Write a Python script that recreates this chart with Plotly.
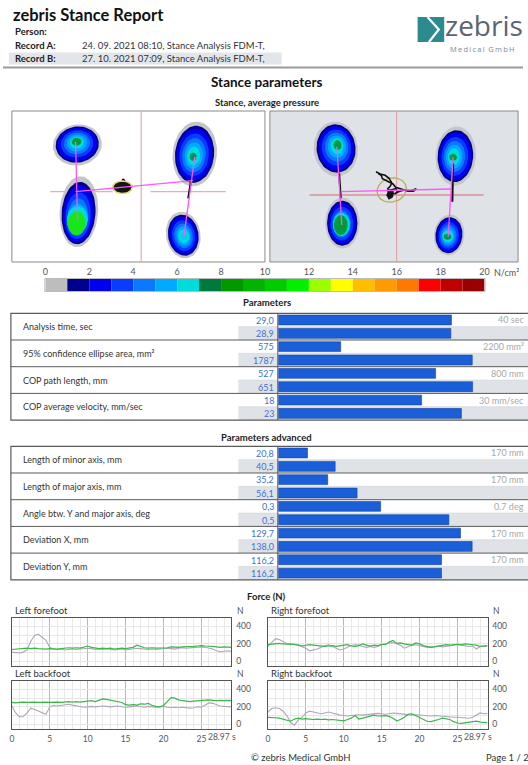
import numpy as np
import plotly.graph_objects as go

W, H = 528, 765
FONT = "Lato"

# ---------------- data ----------------
record_a = "24. 09. 2021 08:10, Stance Analysis FDM-T,"
record_b = "27. 10. 2021 07:09, Stance Analysis FDM-T,"

# pressure colour scale (N/cm²)
cbar_levels = [0, 1, 2, 3, 4, 5, 6, 7, 8, 9, 10, 11, 12, 13, 14, 15, 16, 17, 18, 19, 20]
cbar_colors = ["#bdbdbd", "#00008f", "#0000f0", "#0a3cff", "#0a78ff", "#00aaff", "#00dcdc",
               "#007a3c", "#009a00", "#00b400", "#00cc00", "#00f000", "#9cff00", "#ffff00",
               "#ffbe00", "#ff9a00", "#ff7800", "#ff0000", "#c00000", "#9a0000"]
cbar_ticks = [0, 2, 4, 6, 8, 10, 12, 14, 16, 18, 20]

# foot pressure blobs, panel-local coordinates (record A / record B)
A_cx = [66.5, 68.0, 185.7, 174.0]
A_cy = [34.0, 100.7, 43.0, 124.0]
A_rx = [25.0, 19.5, 22.5, 17.5]
A_ry = [20.5, 35.5, 32.5, 23.5]
A_rot = [-8, 4, 6, -10]
A_kx = [65.7, 65.7, 184.0, 174.7]
A_ky = [30.7, 112.3, 45.7, 125.7]
A_krx = [5.0, 9.0, 3.5, 4.0]
A_kry = [4.0, 12.0, 4.0, 3.0]
A_kcol = ["#009a3a", "#19e619", "#00914a", "#00d0e8"]

B_cx = [67.0, 73.7, 188.7, 182.0]
B_cy = [38.0, 112.0, 45.0, 124.0]
B_rx = [22.5, 17.5, 20.5, 15.5]
B_ry = [27.5, 25.5, 29.5, 20.5]
B_rot = [-6, 0, 4, 6]
B_kx = [68.7, 72.0, 186.0, 180.3]
B_ky = [34.0, 114.0, 46.3, 125.7]
B_krx = [4.0, 7.0, 4.0, 4.0]
B_kry = [5.0, 10.0, 3.5, 3.0]
B_kcol = ["#009a3a", "#009a3a", "#009a3a", "#009a3a"]

# cross-hairs / COP lines (panel-local)
A_vline_x = 131.3
A_hline_y = 80.7
A_hline_segs = [(39.0, 102.3), (140.7, 217.3)]
A_mag_x = [[64.7, 66.7], [185.7, 174.7], [64.7, 184.0]]
A_mag_y = [[30.7, 110.7], [45.7, 125.7], [80.7, 69.7]]
A_cop_x = [[65.7, 65.7], [182.3, 179.0], [110.0, 113.0, 115.0]]
A_cop_y = [[72.3, 82.3], [67.3, 87.3], [76.0, 68.0, 71.0]]
A_cop_cloud = (112.3, 76.3, 9.0, 5.5)

B_vline_x = 128.7
B_hline_y = 84.0
B_hline_segs = [(40.3, 217.0)]
B_mag_x = [[68.0, 73.0], [186.0, 181.0], [72.0, 183.7]]
B_mag_y = [[35.7, 114.0], [46.3, 125.7], [80.7, 78.0]]
B_cop_x = [[70.3, 72.0], [186.0, 185.3]]
B_cop_y = [[62.3, 87.3], [52.3, 90.7]]
B_path_x = [107.7, 112, 117, 121, 123.7, 122.3, 119.7, 121, 123.7, 121, 119, 123, 127.7, 129.7,
            126.3, 131.7, 137, 143, 148.7, 145.7, 140.3, 133.7, 127.7, 125, 119, 114.3, 113, 109.7]
B_path_y = [60.7, 63, 64.3, 67.3, 71.7, 75, 77.7, 81.7, 86.3, 87.7, 84, 79, 77.7, 81,
            83, 80.3, 79, 79.7, 77.7, 80.3, 80.3, 78.3, 76.3, 73, 70.3, 67.7, 64.3, 62.3]
B_ellipse = (123.7, 79.0, 15.0, 12.0)

# parameter tables
p1_labels = ["Analysis time, sec", "95% confidence ellipse area, mm²",
             "COP path length, mm", "COP average velocity, mm/sec"]
p1_a = [29.0, 575, 527, 18]
p1_b = [28.9, 1787, 651, 23]
p1_dec = [1, 0, 0, 0]
p1_max = [40, 2200, 800, 30]
p1_unit = ["sec", "mm²", "mm", "mm/sec"]

p2_labels = ["Length of minor axis, mm", "Length of major axis, mm",
             "Angle btw. Y and major axis, deg", "Deviation X, mm", "Deviation Y, mm"]
p2_a = [20.8, 35.2, 0.3, 129.7, 116.2]
p2_b = [40.5, 56.1, 0.5, 138.0, 116.2]
p2_dec = [1, 1, 1, 1, 1]
p2_max = [170, 170, 0.7, 170, 170]
p2_unit = ["mm", "mm", "deg", "mm", "mm"]

# force curves (N) sampled every 0.5 s
t = [0, 0.5, 1, 1.5, 2, 2.5, 3, 3.5, 4, 4.5, 5, 5.5, 6, 6.5, 7, 7.5, 8, 8.5, 9, 9.5,
     10, 10.5, 11, 11.5, 12, 12.5, 13, 13.5, 14, 14.5, 15, 15.5, 16, 16.5, 17, 17.5, 18, 18.5, 19, 19.5,
     20, 20.5, 21, 21.5, 22, 22.5, 23, 23.5, 24, 24.5, 25, 25.5, 26, 26.5, 27, 27.5, 28, 28.5, 28.97]

lf_a = [105, 100, 95, 105, 130, 230, 300, 310, 280, 240, 160, 140, 135, 140, 130, 135, 140, 135, 140, 150,
        150, 145, 135, 140, 135, 145, 140, 130, 135, 140, 130, 135, 140, 150, 145, 140, 135, 140, 135, 140,
        145, 150, 145, 140, 150, 155, 150, 155, 160, 165, 165, 160, 150, 140, 120, 110, 115, 120, 115]
lf_b = [135, 140, 145, 150, 150, 145, 150, 145, 140, 140, 145, 140, 140, 145, 150, 155, 150, 155, 150, 160,
        175, 160, 150, 145, 150, 145, 150, 140, 145, 150, 145, 150, 160, 185, 170, 155, 150, 155, 150, 150,
        150, 155, 165, 160, 160, 165, 165, 170, 170, 175, 180, 175, 175, 170, 165, 160, 165, 160, 160]
rf_a = [170, 220, 260, 250, 220, 200, 190, 195, 185, 170, 150, 120, 130, 140, 160, 175, 190, 170, 150, 130,
        140, 160, 180, 190, 185, 170, 160, 170, 160, 170, 190, 200, 210, 215, 200, 180, 150, 170, 185, 190,
        180, 170, 160, 165, 170, 175, 165, 170, 175, 180, 190, 185, 180, 170, 175, 140, 170, 175, 170]
rf_b = [190, 195, 200, 205, 200, 195, 200, 195, 185, 175, 180, 190, 185, 180, 175, 170, 175, 180, 170, 175,
        180, 190, 175, 170, 180, 200, 185, 175, 185, 180, 195, 190, 220, 240, 205, 210, 200, 190, 185, 210,
        200, 180, 170, 160, 165, 175, 185, 190, 185, 190, 195, 190, 200, 195, 190, 185, 170, 175, 180]
lb_a = [210, 130, 85, 90, 130, 185, 170, 150, 130, 115, 200, 215, 210, 215, 225, 230, 220, 210, 200, 195,
        200, 205, 200, 205, 210, 205, 200, 205, 210, 200, 195, 200, 205, 210, 200, 195, 205, 200, 195, 200,
        205, 195, 190, 195, 190, 195, 190, 185, 190, 200, 195, 220, 245, 240, 225, 210, 205, 200, 200]
lb_b = [250, 245, 250, 255, 250, 255, 255, 250, 255, 255, 250, 255, 255, 250, 255, 260, 255, 260, 255, 260,
        265, 270, 260, 275, 290, 285, 275, 270, 255, 250, 225, 220, 225, 220, 235, 230, 240, 215, 205, 200,
        215, 265, 305, 300, 280, 270, 265, 260, 265, 270, 275, 275, 280, 275, 270, 275, 270, 275, 270]
rb_a = [140, 180, 190, 180, 150, 100, 20, -10, 50, 80, 130, 150, 140, 130, 120, 130, 140, 130, 115, 105,
        100, 95, 100, 105, 110, 105, 110, 115, 120, 125, 120, 115, 120, 130, 125, 120, 115, 110, 105, 110,
        105, 100, 100, 95, 100, 95, 90, 85, 85, 80, 80, 75, 70, 70, 80, 110, 130, 120, 125]
rb_b = [80, 80, 75, 70, 60, 45, 35, 60, 70, 60, 65, 60, 55, 60, 55, 60, 50, 55, 50, 45,
        40, 55, 70, 100, 60, 70, 80, 95, 105, 95, 95, 100, 90, 70, 40, 55, 80, 115, 120, 100,
        80, 55, 35, 30, 40, 55, 70, 65, 55, 30, 15, 10, 15, 20, 30, 35, 25, 25, 20]

force_titles = ["Left forefoot", "Right forefoot", "Left backfoot", "Right backfoot"]
force_a = [lf_a, rf_a, lb_a, rb_a]
force_b = [lf_b, rf_b, lb_b, rb_b]
force_xticks = [0, 5, 10, 15, 20, 25]
force_yticks = [0, 200, 400]

# ---------------- helpers ----------------
def X(p):
    return p / W

def Y(p):
    return 1 - p / H

annotations = []
shapes = []
traces = []
layout_axes = {}

def text(x, y, s, size=10, color="#222", bold=False, xanchor="left", family=FONT):
    annotations.append(dict(x=X(x), y=Y(y), xref="paper", yref="paper",
                            text=("<b>%s</b>" % s) if bold else s, showarrow=False,
                            xanchor=xanchor, yanchor="middle",
                            font=dict(size=size, color=color, family=family)))

def rect(x0, y0, x1, y1, fill=None, line=None, lw=1, layer="below"):
    shapes.append(dict(type="rect", xref="paper", yref="paper", x0=X(x0), x1=X(x1),
                       y0=Y(y1), y1=Y(y0), fillcolor=fill or "rgba(0,0,0,0)",
                       line=dict(color=line or "rgba(0,0,0,0)", width=lw if line else 0),
                       layer=layer))

def hline(x0, x1, y, color="#555", lw=1, layer="above"):
    shapes.append(dict(type="line", xref="paper", yref="paper", x0=X(x0), x1=X(x1),
                       y0=Y(y), y1=Y(y), line=dict(color=color, width=lw), layer=layer))

def vline(x, y0, y1, color="#555", lw=1, layer="above"):
    shapes.append(dict(type="line", xref="paper", yref="paper", x0=X(x), x1=X(x),
                       y0=Y(y0), y1=Y(y1), line=dict(color=color, width=lw), layer=layer))

def hidden_axis(rng, dom):
    return dict(range=rng, domain=dom, showgrid=False, zeroline=False, showticklabels=False,
                showline=False, ticks="", fixedrange=True)

def ellipse(cx, cy, rx, ry, rot=0):
    th = np.linspace(0, 2 * np.pi, 64)
    c, s = np.cos(np.radians(rot)), np.sin(np.radians(rot))
    ex, ey = rx * np.cos(th), ry * np.sin(th)
    return cx + ex * c - ey * s, cy + ex * s + ey * c

blob_levels = [(1.0, "#c6c6c6"), (0.88, cbar_colors[1]), (0.80, cbar_colors[2]),
               (0.66, cbar_colors[3]), (0.53, cbar_colors[4]), (0.41, cbar_colors[5]),
               (0.29, cbar_colors[6])]

def draw_blobs(ax, cx, cy, rx, ry, rot, kx, ky, krx, kry, kcol):
    for i in range(len(cx)):
        for s, col in blob_levels:
            ccx = kx[i] + s * (cx[i] - kx[i])
            ccy = ky[i] + s * (cy[i] - ky[i])
            ex, ey = ellipse(ccx, ccy, max(rx[i] * s, krx[i] + 1.5), max(ry[i] * s, kry[i] + 1.5), rot[i])
            traces.append(go.Scatter(x=ex, y=ey, mode="lines", fill="toself", fillcolor=col,
                                     line=dict(width=0, color=col), hoverinfo="skip",
                                     showlegend=False, xaxis="x" + ax, yaxis="y" + ax))
        ex, ey = ellipse(kx[i], ky[i], krx[i], kry[i], rot[i])
        traces.append(go.Scatter(x=ex, y=ey, mode="lines", fill="toself", fillcolor=kcol[i],
                                 line=dict(width=0, color=kcol[i]), hoverinfo="skip",
                                 showlegend=False, xaxis="x" + ax, yaxis="y" + ax))

def line_tr(ax, xs, ys, color, width):
    traces.append(go.Scatter(x=xs, y=ys, mode="lines", line=dict(color=color, width=width),
                             hoverinfo="skip", showlegend=False, xaxis="x" + ax, yaxis="y" + ax))

# ---------------- header ----------------
text(8, 15, "zebris Stance Report", size=16.5, color="#111", bold=True)
text(10, 32, "Person:", size=9.5, color="#222", bold=True)
rect(6, 52.5, 283, 64.5, fill="#e2e6eb")
text(10, 45, "Record A:", size=9.5, color="#222", bold=True)
text(10, 58.5, "Record B:", size=9.5, color="#222", bold=True)
text(78, 45, record_a, size=9.5, color="#333")
text(78, 58.5, record_b, size=9.5, color="#333")
hline(0, 528, 67.5, color="#9a9a9a", lw=2)
text(268, 82, "Stance parameters", size=13.5, color="#111", bold=True, xanchor="center")
text(268, 103, "Stance, average pressure", size=9.5, color="#222", bold=True, xanchor="center")

# logo
rect(421, 17, 448, 42, fill="#2b8b8f", layer="above")
shapes.append(dict(type="path", xref="paper", yref="paper",
                   path="M %f %f L %f %f L %f %f" % (X(431), Y(17), X(442.5), Y(29.5), X(432.5), Y(42)),
                   line=dict(color="white", width=2.2), layer="above"))
text(447, 25.5, "zebris", size=28, color="#5a6571", family="Open Sans")
text(452, 49.5, "\u2009".join("Medical") + "\u2002" + "\u2009".join("GmbH"), size=7.5, color="#7d8791", family="Open Sans")

# ---------------- pressure panels ----------------
pA = (9, 266, 111, 262)
pB = (271, 523, 111, 262)
rect(pA[0], pA[2], pA[1], pA[3], fill="white", line="#8a8a8a")
rect(pB[0], pB[2], pB[1], pB[3], fill="#dfe3e8", line="#8a8a8a")
layout_axes["xaxis"] = hidden_axis([0, pA[1] - pA[0]], [X(pA[0]), X(pA[1])])
layout_axes["yaxis"] = hidden_axis([pA[3] - pA[2], 0], [Y(pA[3]), Y(pA[2])])
layout_axes["xaxis2"] = hidden_axis([0, pB[1] - pB[0]], [X(pB[0]), X(pB[1])])
layout_axes["yaxis2"] = hidden_axis([pB[3] - pB[2], 0], [Y(pB[3]), Y(pB[2])])

CROSS = "#e69a9a"
MAG = "#ff55ff"
# panel A
line_tr("", [A_vline_x, A_vline_x], [0, pA[3] - pA[2]], CROSS, 1)
for a0, a1 in A_hline_segs:
    line_tr("", [a0, a1], [A_hline_y, A_hline_y], CROSS, 1)
draw_blobs("", A_cx, A_cy, A_rx, A_ry, A_rot, A_kx, A_ky, A_krx, A_kry, A_kcol)
for xs, ys in zip(A_cop_x, A_cop_y):
    line_tr("", xs, ys, "#111", 2)
cx_, cy_, rx_, ry_ = A_cop_cloud
ex, ey = ellipse(cx_, cy_, rx_ + 1.8, ry_ + 1.5)
traces.append(go.Scatter(x=ex, y=ey, mode="lines", fill="toself", fillcolor="#e8dc70",
                         line=dict(width=0), hoverinfo="skip", showlegend=False, xaxis="x", yaxis="y"))
ex, ey = ellipse(cx_, cy_, rx_, ry_)
traces.append(go.Scatter(x=ex, y=ey, mode="lines", fill="toself", fillcolor="#151515",
                         line=dict(width=0), hoverinfo="skip", showlegend=False, xaxis="x", yaxis="y"))
for xs, ys in zip(A_mag_x, A_mag_y):
    line_tr("", xs, ys, MAG, 1.3)

# panel B
line_tr("2", [B_vline_x, B_vline_x], [0, pB[3] - pB[2]], CROSS, 1)
for a0, a1 in B_hline_segs:
    line_tr("2", [a0, a1], [B_hline_y, B_hline_y], "#d46a6a", 1)
draw_blobs("2", B_cx, B_cy, B_rx, B_ry, B_rot, B_kx, B_ky, B_krx, B_kry, B_kcol)
for xs, ys in zip(B_cop_x, B_cop_y):
    line_tr("2", xs, ys, "#111", 2)
ecx, ecy, erx, ery = B_ellipse
ex, ey = ellipse(ecx, ecy, erx, ery, -15)
line_tr("2", ex, ey, "#b9ad55", 1.3)
line_tr("2", B_path_x, B_path_y, "#111", 1.6)
ex, ey = ellipse(122.5, 82.5, 3.5, 4.5)
traces.append(go.Scatter(x=ex, y=ey, mode="lines", fill="toself", fillcolor="#111",
                         line=dict(width=0), hoverinfo="skip", showlegend=False, xaxis="x2", yaxis="y2"))
for xs, ys in zip(B_mag_x, B_mag_y):
    line_tr("2", xs, ys, MAG, 1.3)

# ---------------- colour bar ----------------
cb = (43, 489, 279, 291)
mids = [(cbar_levels[i] + cbar_levels[i + 1]) / 2 for i in range(len(cbar_colors))]
traces.append(go.Bar(x=mids, y=[1] * len(mids), width=1, marker=dict(color=cbar_colors, line=dict(width=0)),
                     hoverinfo="skip", showlegend=False, xaxis="x3", yaxis="y3"))
layout_axes["xaxis3"] = dict(range=[0, 20], domain=[X(cb[0]), X(cb[1])], side="top",
                             tickvals=cbar_ticks, ticktext=[str(v) for v in cbar_ticks],
                             showgrid=False, zeroline=False, showline=False, ticks="",
                             tickfont=dict(size=9, color="#555", family=FONT), anchor="y3",
                             ticklabelstandoff=1)
layout_axes["yaxis3"] = hidden_axis([0, 1], [Y(cb[3]), Y(cb[2])])
layout_axes["yaxis3"]["anchor"] = "x3"
rect(cb[0] - 0.5, cb[2] - 0.5, cb[1] + 0.5, cb[3] + 0.5, line="#bbbbbb", lw=1, layer="above")
text(497, 272.5, "N/cm²", size=9, color="#555")

# ---------------- parameter tables ----------------
ROW = 13.35
LBL_X0, VAL_X0, BAR_X0, BAR_X1, RIGHT = 8, 239, 279, 522, 540

def fmt(v, d):
    return ("%.*f" % (d, v)).replace(".", ",")

def table(ax, top, labels, va, vb, dec, vmax, unit, title, title_y):
    n = len(labels)
    bottom = top + 2 * n * ROW
    text(268, title_y, title, size=9.5, color="#222", bold=True, xanchor="center")
    for i in range(n):
        y0 = top + 2 * i * ROW
        rect(VAL_X0, y0 + ROW, RIGHT, y0 + 2 * ROW, fill="#dfe3e8")
        if i > 0:
            hline(LBL_X0, RIGHT, y0, color="#5a5a5a", lw=1)
        hline(VAL_X0, RIGHT, y0 + ROW, color="#cfd3d8", lw=0.6, layer="below")
        text(18, y0 + ROW, labels[i], size=9, color="#333")
        text(277.5, y0 + ROW / 2 + 0.3, fmt(va[i], dec[i]), size=9, color="#3d72d4", xanchor="right")
        text(277.5, y0 + 1.5 * ROW + 0.3, fmt(vb[i], dec[i]), size=9, color="#3d72d4", xanchor="right")
        mx = ("%g" % vmax[i]) + " " + unit[i]
        text(531, y0 + ROW / 2, mx, size=9, color="#a8a8a8", xanchor="right")
    rect(LBL_X0, top, RIGHT, bottom, line="#5a5a5a", lw=1.2, layer="above")
    vline(BAR_X0, top, bottom, color="#5a5a5a", lw=1)
    ys, xs = [], []
    for i in range(n):
        ys += [2 * i + 0.5, 2 * i + 1.5]
        xs += [va[i] / vmax[i], vb[i] / vmax[i]]
    traces.append(go.Bar(x=xs, y=ys, orientation="h", width=0.74,
                         marker=dict(color="#1b5fd8", line=dict(color="#0f3e9e", width=0.6)),
                         hoverinfo="skip", showlegend=False, xaxis="x" + ax, yaxis="y" + ax))
    layout_axes["xaxis" + ax] = hidden_axis([0, 1], [X(BAR_X0 + 0.5), X(BAR_X1)])
    layout_axes["xaxis" + ax]["anchor"] = "y" + ax
    layout_axes["yaxis" + ax] = hidden_axis([2 * n, 0], [Y(bottom), Y(top)])
    layout_axes["yaxis" + ax]["anchor"] = "x" + ax

table("4", 313.3, p1_labels, p1_a, p1_b, p1_dec, p1_max, p1_unit, "Parameters", 303)
table("5", 446.3, p2_labels, p2_a, p2_b, p2_dec, p2_max, p2_unit, "Parameters advanced", 437)

# ---------------- force plots ----------------
text(268, 596.5, "Force (N)", size=9.5, color="#222", bold=True, xanchor="center")
boxes = [(9, 232, 618, 666), (269, 492, 618, 666), (9, 232, 681, 729), (269, 492, 681, 729)]
for k in range(4):
    ax = str(6 + k)
    x0, x1, y0, y1 = boxes[k]
    bottom_row = k >= 2
    traces.append(go.Scatter(x=t, y=force_a[k], mode="lines", line=dict(color="#a9a9b9", width=1.1),
                             hoverinfo="skip", showlegend=False, xaxis="x" + ax, yaxis="y" + ax))
    traces.append(go.Scatter(x=t, y=force_b[k], mode="lines", line=dict(color="#3cb44a", width=1.2),
                             hoverinfo="skip", showlegend=False, xaxis="x" + ax, yaxis="y" + ax))
    layout_axes["xaxis" + ax] = dict(
        range=[0, 28.97], domain=[X(x0), X(x1)], anchor="y" + ax,
        tickvals=force_xticks, ticktext=[str(v) for v in force_xticks],
        showticklabels=bottom_row, ticks="", ticklabelstandoff=2,
        tickfont=dict(size=8.5, color="#555", family=FONT),
        showgrid=True, gridcolor="#b9b9b9", gridwidth=1, zeroline=False,
        showline=True, linecolor="#555", linewidth=1, mirror=True,
        minor=dict(tickmode="linear", tick0=0, dtick=1, showgrid=True, gridcolor="#e9e9e9", ticks=""),
        fixedrange=True)
    layout_axes["yaxis" + ax] = dict(
        range=[-54, 496], domain=[Y(y1), Y(y0)], anchor="x" + ax, side="right",
        tickvals=force_yticks, ticktext=[str(v) for v in force_yticks], ticks="",
        ticklabelstandoff=2, tickfont=dict(size=8.5, color="#555", family=FONT),
        showgrid=True, gridcolor="#e6e6e6", zeroline=False,
        showline=True, linecolor="#555", linewidth=1, mirror=True,
        minor=dict(tickmode="linear", tick0=0, dtick=100, showgrid=True, gridcolor="#e6e6e6", ticks=""),
        fixedrange=True)
    text(x0 + 1, y0 - 7.5, force_titles[k], size=9.5, color="#333")
    text(x1 + 4, y0 - 7.5, "N", size=8.5, color="#555")
    if bottom_row:
        text(x1 + 7, y1 + 7.5, "28.97 s", size=8.5, color="#555", xanchor="right")

# ---------------- footer ----------------
text(303, 757, "© zebris Medical GmbH", size=9.5, color="#333", xanchor="center")
text(488, 757, "Page 1 / 2", size=9.5, color="#333")

fig = go.Figure(data=traces)
fig.update_layout(width=W, height=H, margin=dict(l=0, r=0, t=0, b=0),
                  paper_bgcolor="white", plot_bgcolor="rgba(0,0,0,0)",
                  annotations=annotations, shapes=shapes, showlegend=False,
                  barmode="overlay", font=dict(family=FONT), **layout_axes)
fig.write_html("out.html", config={"displayModeBar": False, "staticPlot": True},
               post_script="document.body.style.margin='0';document.body.style.overflow='hidden';")
